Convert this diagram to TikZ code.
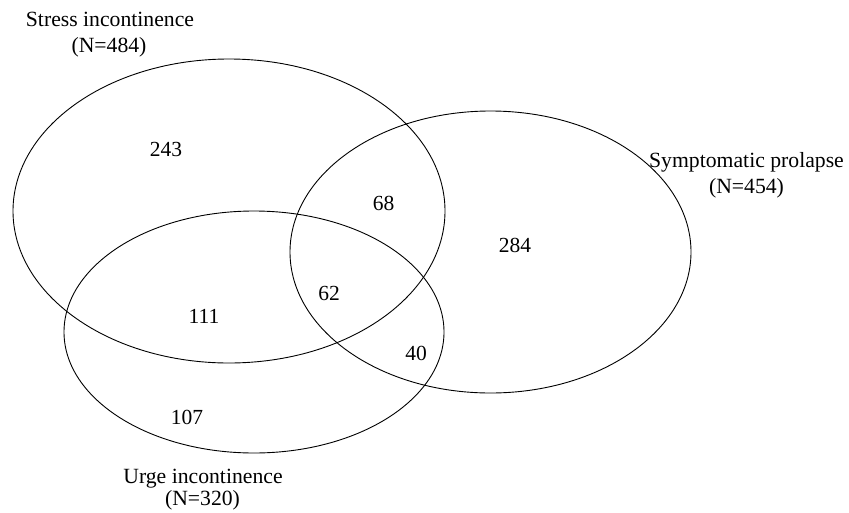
\documentclass[tikz,border=0pt]{standalone}
\usepackage{fontspec}
\setmainfont{Liberation Serif}
\begin{document}
\begin{tikzpicture}[x=1pt,y=-1pt,
  set/.style={draw=black,line width=0.9pt},
  lbl/.style={inner sep=0pt,anchor=base,font=\fontsize{21.7}{26}\selectfont},
  num/.style={inner sep=0pt,font=\fontsize{21.5}{24}\selectfont}]
\useasboundingbox (0,0) rectangle (849,512);
\draw[set] (229,211) ellipse [x radius=216pt, y radius=152pt];
\draw[set] (490.5,252) ellipse [x radius=200.5pt, y radius=141pt];
\draw[set] (254,332) ellipse [x radius=190pt, y radius=121pt];
\node[lbl] (stress) at (110,26) {Stress incontinence};
\node[lbl] (stressn) at (109,52) {(N=484)};
\node[lbl] (prolapse) at (746.5,167) {Symptomatic prolapse};
\node[lbl] (prolapsen) at (746.5,193) {(N=454)};
\node[lbl] (urge) at (203,483) {Urge incontinence};
\node[lbl] (urgen) at (202.5,505) {(N=320)};
\node[num] (n243) at (166,149) {243};
\node[num] (n68) at (383.5,203.5) {68};
\node[num] (n284) at (515,245) {284};
\node[num] (n62) at (329,293) {62};
\node[num] (n40) at (416,353) {40};
\node[num] (n111) at (204,316) {111};
\node[num] (n107) at (187,417) {107};
\end{tikzpicture}
\end{document}
